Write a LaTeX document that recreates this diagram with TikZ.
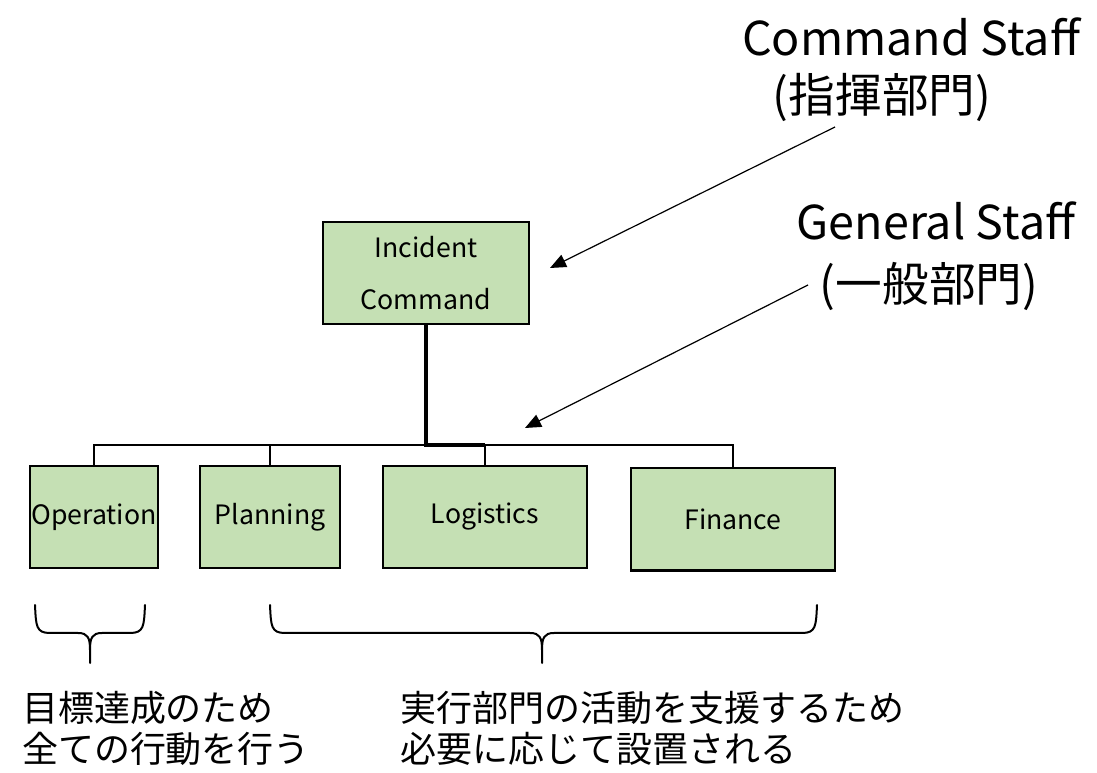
\documentclass[tikz,border=0pt]{standalone}
\usepackage{fontspec}
\setmainfont{Noto Sans CJK JP}
\usetikzlibrary{positioning,arrows.meta}

\definecolor{boxgreen}{RGB}{197,224,180}

\begin{document}
\begin{tikzpicture}[x=0.75pt,y=-0.75pt]
                    \tikzstyle{every node}=[inner sep=0,outer sep=0]
                    \tikzstyle{unit}=[draw,fill=boxgreen,line width=2pt,rectangle,font=\fontsize{20}{24}\selectfont]
                    \tikzstyle{staff}=[font=\fontsize{35}{40}\selectfont]
                    \tikzstyle{note}=[anchor=west,font=\fontsize{27}{31}\selectfont]
                    \tikzstyle{branch}=[line width=1.5pt]
                    \tikzstyle{trunk}=[line width=3pt]
                    \tikzstyle{pointer}=[line width=0.9pt,-{Triangle[length=12pt,width=10pt]}]
                    \tikzstyle{bracket}=[line width=1.5pt,line cap=round]
                    {
                        \useasboundingbox (0,0) rectangle (1097,773);

                        \node[unit,minimum width=154.5pt,minimum height=76.5pt,align=center,font=\fontsize{20}{39}\selectfont] (ic) at (426,273) {Incident\\Command};

                        \node[unit,minimum width=96pt,minimum height=76.5pt] (ops) at (94,517) {Operation};
                        \node[unit,minimum width=105pt,minimum height=76.5pt] (plan) at (270,517) {Planning};
                        \node[unit,minimum width=153pt,minimum height=76.5pt] (logi) at (485,517) {Logistics};
                        \node[unit,minimum width=153pt,minimum height=77pt] (fin) at (733,519.5) {Finance};

                        \coordinate (hub) at (426,445);

                        \draw[branch] (ops.north) |- (hub);
                        \draw[branch] (plan.north) |- (hub);
                        \draw[branch] (logi.north) |- (hub);
                        \draw[branch] (fin.north) |- (hub);
                        \draw[trunk] (ic.south) -- (hub) -- (hub -| logi.north);

                        \node[staff] (cmdstaff) at (911,37) {Command Staff};
                        \node[staff] (cmdjp) at (882,97) {(指揮部門)};
                        \node[staff] (genstaff) at (936,221) {General Staff};
                        \node[staff] (genjp) at (929,286) {(一般部門)};

                        \coordinate (cmdtail) at (835,127);
                        \coordinate (cmdtip) at (550,268);
                        \coordinate (gentail) at (808,285);
                        \coordinate (gentip) at (525,428);

                        \draw[pointer] (cmdtail) -- (cmdtip);
                        \draw[pointer] (gentail) -- (gentip);

                        \draw[bracket] (35,605) .. controls (36,626) and (36,633) .. (50,633) -- (78,633)
                            .. controls (88,633) and (90,638) .. (90,650) -- (90,663)
                            (90,650) .. controls (90,638) and (92,633) .. (102,633) -- (130,633)
                            .. controls (144,633) and (144,626) .. (145,605);
                        \draw[bracket] (270,605) .. controls (271,626) and (271,633) .. (285,633) -- (530,633)
                            .. controls (540,633) and (542,638) .. (542,650) -- (542,663)
                            (542,650) .. controls (542,638) and (544,633) .. (554,633) -- (802,633)
                            .. controls (816,633) and (816,626) .. (817,605);

                        \node[note] (opsnote1) at (22,708) {目標達成のため};
                        \node[note] (opsnote2) at (22,749) {全ての行動を行う};
                        \node[note] (gennote1) at (400,708) {実行部門の活動を支援するため};
                        \node[note] (gennote2) at (400,749) {必要に応じて設置される};
                    }
\end{tikzpicture}
\end{document}
